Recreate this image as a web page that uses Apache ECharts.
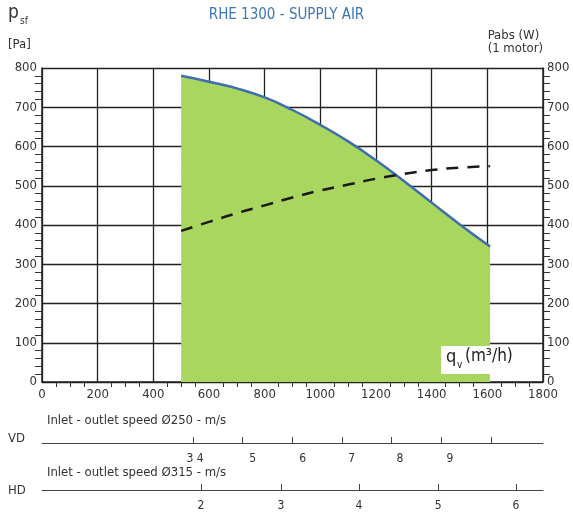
<!DOCTYPE html><html><head><meta charset="utf-8"><script src="https://cdn.jsdelivr.net/npm/echarts@6/dist/echarts.min.js"></script></head><body style="margin:0;background:#fff"><div id="c" style="width:573px;height:520px"></div><script>
const fanX=[500,600,700,800,900,1000,1100,1200,1300,1400,1500,1610];
const fanY=[780,765,748,725,693,655,613,565,512,457,402,345];
const powX=[500,600,700,800,900,1000,1100,1200,1300,1400,1500,1610];
const powY=[385,408,430,450,470,488,503,518,530,540,546,550];
const vdTicks=[545,718,898,1078,1254,1434,1614];
const vdLabelPos=[550,757,937,1113,1286,1466];
const vdLabels=['3 4','5','6','7','8','9'];
const hdTicks=[571,858,1139,1423,1703];
const hdLabels=['2','3','4','5','6'];
const F='"DejaVu Sans Condensed","Liberation Sans Narrow",sans-serif';
const c=echarts.init(document.getElementById('c'));
const lab=(pos,labs)=>v=>{const i=pos.indexOf(v);return i>=0?labs[i]:'';};
c.setOption({animation:false,textStyle:{fontFamily:F},
grid:[{left:42,right:30,top:68,height:314},{left:42,right:30,top:443,height:0},{left:42,right:30,top:490,height:0}],
xAxis:[{gridIndex:0,type:'value',min:0,max:1800,interval:200,axisLine:{lineStyle:{color:'#222',width:1.5}},axisTick:{show:false},minorTick:{show:true,splitNumber:4,length:5,lineStyle:{color:'#333'}},axisLabel:{color:'#333',fontSize:13,fontFamily:F,margin:6,formatter:v=>String(v)},splitLine:{lineStyle:{color:'#222',width:1.3}}},
{gridIndex:1,type:'value',min:0,max:1800,axisLine:{lineStyle:{color:'#444'}},axisTick:{inside:true,length:6,customValues:vdTicks,lineStyle:{color:'#444'}},axisLabel:{customValues:vdLabelPos,formatter:lab(vdLabelPos,vdLabels),color:'#333',fontSize:12,fontFamily:F,margin:10},splitLine:{show:false}},
{gridIndex:2,type:'value',min:0,max:1800,axisLine:{lineStyle:{color:'#444'}},axisTick:{inside:true,length:6,customValues:hdTicks,lineStyle:{color:'#444'}},axisLabel:{customValues:hdTicks,formatter:lab(hdTicks,hdLabels),color:'#333',fontSize:12,fontFamily:F,margin:10},splitLine:{show:false}}],
yAxis:[{gridIndex:0,type:'value',min:0,max:800,interval:100,axisLine:{show:true,lineStyle:{color:'#222',width:1.5}},axisTick:{show:false},minorTick:{show:true,splitNumber:5,length:7,lineStyle:{color:'#333'}},axisLabel:{color:'#333',fontSize:13,fontFamily:F,margin:5},splitLine:{lineStyle:{color:'#222',width:1.3}}},
{gridIndex:0,type:'value',position:'right',min:0,max:800,interval:100,axisLine:{show:true,lineStyle:{color:'#222',width:1.5}},axisTick:{show:false},minorTick:{show:true,splitNumber:5,length:7,lineStyle:{color:'#333'}},axisLabel:{color:'#333',fontSize:13,fontFamily:F,margin:4},splitLine:{show:false}},
{gridIndex:1,show:false},{gridIndex:2,show:false}],
series:[{type:'line',xAxisIndex:0,yAxisIndex:0,data:fanX.map((x,i)=>[x,fanY[i]]),smooth:true,symbol:'none',lineStyle:{color:'#3f6db0',width:2.5},areaStyle:{color:'#a9d65e',opacity:1},z:1},
{type:'line',xAxisIndex:0,yAxisIndex:1,data:powX.map((x,i)=>[x,powY[i]]),smooth:true,symbol:'none',lineStyle:{color:'#1a1a1a',width:2.5,type:[12,9]},z:3}],
graphic:[{type:'text',left:'center',top:8,style:{text:'RHE 1300 - SUPPLY AIR',fill:'#3b78b5',font:'15px '+F}},
{type:'text',left:8,top:4,style:{text:'p',fill:'#333',font:'19px '+F}},
{type:'text',left:20,top:16,style:{text:'sf',fill:'#333',font:'10px '+F}},
{type:'text',left:8,top:38,style:{text:'[Pa]',fill:'#333',font:'13px '+F}},
{type:'text',right:30,top:29,style:{text:'Pabs (W)\n(1 motor)',fill:'#333',font:'13px '+F,align:'right',lineHeight:13}},
{type:'rect',left:441,top:346,shape:{width:100,height:28},style:{fill:'#fff'},z:50},
{type:'text',left:446,top:348,z:51,style:{text:'q',fill:'#222',font:'18px '+F}},
{type:'text',left:457,top:360,z:51,style:{text:'v',fill:'#222',font:'10px '+F}},
{type:'text',left:465,top:348,z:51,style:{text:'(m³/h)',fill:'#222',font:'17px '+F}},
{type:'text',left:47,top:414,style:{text:'Inlet - outlet speed Ø250 - m/s',fill:'#333',font:'13px '+F}},
{type:'text',left:8,top:432,style:{text:'VD',fill:'#333',font:'13px '+F}},
{type:'text',left:47,top:466,style:{text:'Inlet - outlet speed Ø315 - m/s',fill:'#333',font:'13px '+F}},
{type:'text',left:8,top:484,style:{text:'HD',fill:'#333',font:'13px '+F}}]
});
</script></body></html>
